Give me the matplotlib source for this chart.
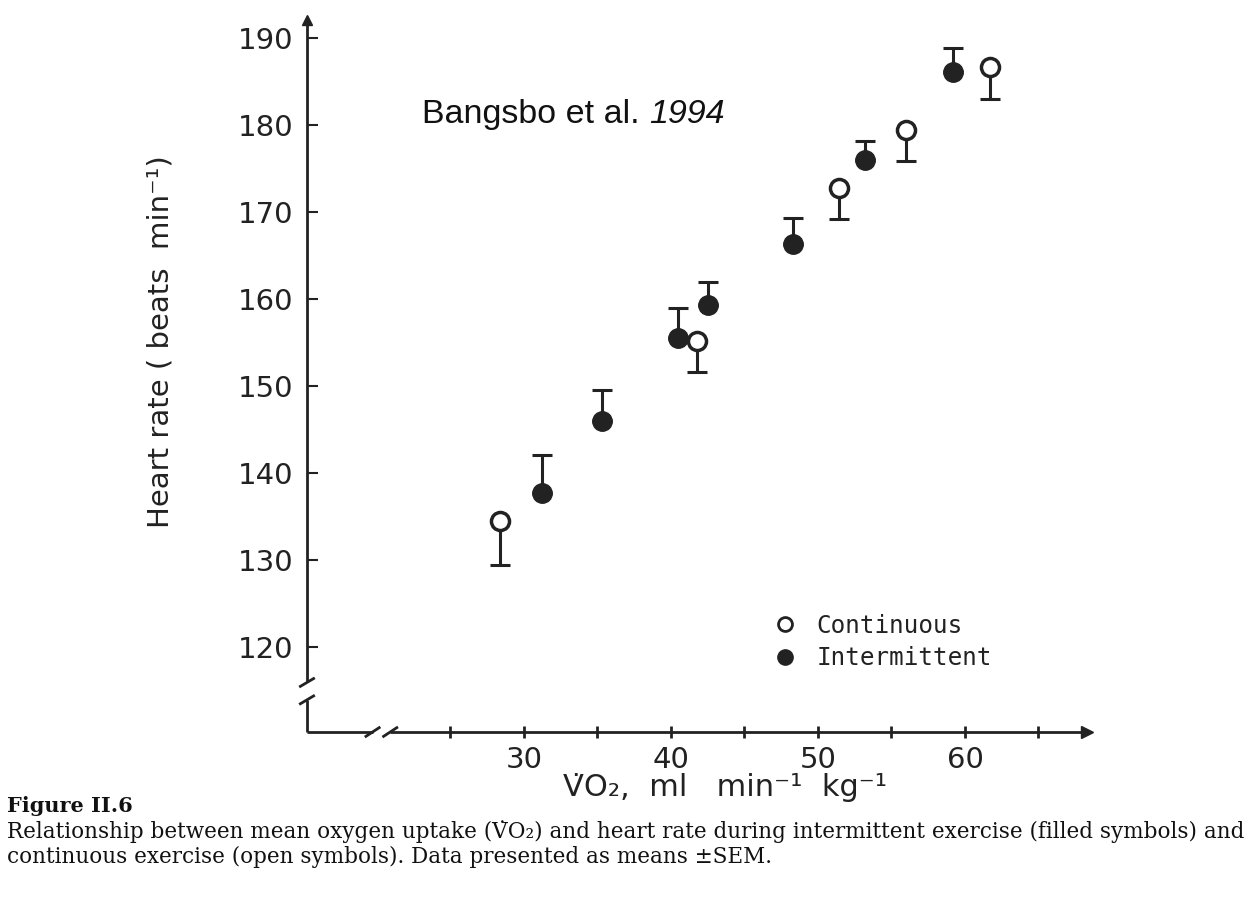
import numpy as np
import matplotlib
matplotlib.use("Agg")
import matplotlib.pyplot as plt
from matplotlib.lines import Line2D

# continuous exercise (open symbols), error bar drawn downward
cont_vo2 = [28.4, 41.8, 51.4, 56.0, 61.7]
cont_hr = [134.5, 155.2, 172.8, 179.4, 186.7]
cont_sem = [5.1, 3.6, 3.6, 3.5, 3.7]

# intermittent exercise (filled symbols), error bar drawn upward
int_vo2 = [31.2, 35.3, 40.5, 42.5, 48.3, 53.2, 59.2]
int_hr = [137.7, 146.0, 155.5, 159.3, 166.3, 176.0, 186.1]
int_sem = [4.4, 3.5, 3.5, 2.7, 3.0, 2.2, 2.8]

y_ticks = [120, 130, 140, 150, 160, 170, 180, 190]
x_ticks = [30, 40, 50, 60]
x_minor = [25, 35, 45, 55, 65]

ink = '#222222'
W, H = 1257, 911

fig = plt.figure(figsize=(W / 100, H / 100), dpi=100)
ax = fig.add_axes([307 / W, 1 - 732 / H, 780 / W, 712 / H])
x0, x1 = 15.24, 68.3
y0, y1 = 110.2, 192.1
ax.set_xlim(x0, x1)
ax.set_ylim(y0, y1)
for s in ax.spines.values():
    s.set_visible(False)

# axis lines with breaks
lw = 2.0
ax.plot([x0, 19.7], [y0, y0], color=ink, lw=lw, clip_on=False, solid_capstyle='butt')
ax.plot([20.9, x1], [y0, y0], color=ink, lw=lw, clip_on=False, solid_capstyle='butt')
ax.plot([x0, x0], [y0, 113.9], color=ink, lw=lw, clip_on=False, solid_capstyle='butt')
ax.plot([x0, x0], [115.9, y1], color=ink, lw=lw, clip_on=False, solid_capstyle='butt')
for bx in [19.7, 20.9]:
    ax.plot([bx - 0.45, bx + 0.45], [y0 - 0.5, y0 + 0.5], color=ink, lw=lw, clip_on=False)
for by in [113.9, 115.9]:
    ax.plot([x0 - 0.45, x0 + 0.45], [by - 0.45, by + 0.45], color=ink, lw=lw, clip_on=False)
ax.plot([x1], [y0], marker='>', color=ink, ms=9, clip_on=False)
ax.plot([x0], [y1], marker='^', color=ink, ms=7, clip_on=False)

ax.set_yticks(y_ticks)
ax.set_xticks(x_ticks)
ax.set_xticks(x_minor, minor=True)
ax.tick_params(axis='y', direction='in', length=8, width=1.5, pad=10,
               labelsize=21, colors=ink)
ax.tick_params(axis='x', which='both', direction='inout', length=8, width=2,
               pad=6, labelsize=21, colors=ink)

# error bars (one-sided)
ax.errorbar(cont_vo2, cont_hr, yerr=[cont_sem, np.zeros(len(cont_sem))], fmt='none',
            ecolor=ink, elinewidth=2.2, capsize=7, capthick=2.2, zorder=2)
ax.errorbar(int_vo2, int_hr, yerr=[np.zeros(len(int_sem)), int_sem], fmt='none',
            ecolor=ink, elinewidth=2.2, capsize=7, capthick=2.2, zorder=2)
ax.plot(cont_vo2, cont_hr, 'o', ms=13, mfc='white', mec=ink, mew=2.5, zorder=3)
ax.plot(int_vo2, int_hr, 'o', ms=14, mfc=ink, mec=ink, zorder=3)

handles = [Line2D([], [], ls='none', marker='o', ms=10, mfc='white', mec=ink, mew=2),
           Line2D([], [], ls='none', marker='o', ms=11, mfc=ink, mec=ink)]
fig.legend(handles, ['Continuous', 'Intermittent'], loc='upper left',
           bbox_to_anchor=(763 / W, 1 - 604 / H), frameon=False,
           prop={'family': 'DejaVu Sans Mono', 'size': 17.5}, labelcolor=ink,
           handlelength=1.0, handletextpad=0.8, labelspacing=0.35, borderaxespad=0)

fig.text(160 / W, 1 - 342 / H, 'Heart rate ( beats  min\u207b\u00b9)', rotation=90,
         ha='center', va='center', fontsize=21, color=ink)
fig.text(725 / W, 1 - 788 / H, 'V\u0307O\u2082,  ml   min\u207b\u00b9  kg\u207b\u00b9',
         ha='center', va='center', fontsize=22, color=ink)

t1 = fig.text(422 / W, 1 - 130 / H, 'Bangsbo et al.', fontsize=24.5,
              family='Liberation Sans', color='#111111', va='bottom')
ax.annotate('1994', xy=(1, 0), xycoords=t1, xytext=(7, 0), textcoords='offset points',
            fontsize=24.5, family='Liberation Sans', style='italic', color='#111111',
            va='bottom', ha='left', annotation_clip=False)

fig.text(7 / W, 1 - 806 / H, 'Figure II.6', fontsize=15, weight='bold',
         family='DejaVu Serif', color='#111111', va='center')
fig.text(7 / W, 1 - 832 / H,
         'Relationship between mean oxygen uptake (V\u0307O\u2082) and heart rate during '
         'intermittent exercise (filled symbols) and',
         fontsize=15.5, family='DejaVu Serif', color='#111111', va='center')
fig.text(7 / W, 1 - 857 / H,
         'continuous exercise (open symbols). Data presented as means \u00b1SEM.',
         fontsize=15.5, family='DejaVu Serif', color='#111111', va='center')

fig.savefig('out.png', dpi=100)
